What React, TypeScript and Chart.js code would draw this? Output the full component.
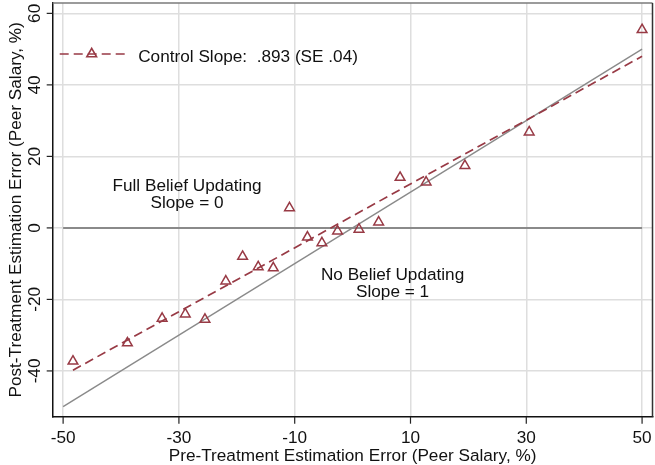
import { useEffect, useRef } from "react";
import { Chart, registerables } from "chart.js";

Chart.register(...registerables);

// Binned control-group estimation errors (pre vs post treatment)
const preError = [-48.3, -38.9, -32.9, -28.9, -25.5, -21.9, -19.0, -16.3, -13.7, -10.9, -7.8, -5.3, -2.6, 1.1, 4.5, 8.2, 12.7, 19.4, 30.5, 50.0];
const postError = [-37.3, -32.2, -25.3, -24.1, -25.6, -14.9, -8.0, -10.9, -11.2, 5.6, -2.6, -4.2, -0.9, -0.4, 1.6, 14.1, 12.8, 17.4, 26.8, 55.4];

// Fitted control slope and intercept
const fitSlope = 0.893;
const fitIntercept = 3.35;

// Reference lines: no updating (slope 1) and full updating (slope 0)
const refRange = [-50, 50];

const xTicks = [-50, -30, -10, 10, 30, 50];
const yTicks = [-40, -20, 0, 20, 40, 60];
const xTickLabels = ["-50", "-30", "-10", "10", "30", "50"];
const yTickLabels = ["-40", "-20", "0", "20", "40", "60"];

const xTitle = "Pre-Treatment Estimation Error (Peer Salary, %)";
const yTitle = "Post-Treatment Estimation Error (Peer Salary, %)";
const legendText = "Control Slope:  .893 (SE .04)";

const notes = [
  { x: -28.6, y: 10.3, text: "Full Belief Updating" },
  { x: -28.6, y: 5.5, text: "Slope = 0" },
  { x: 6.9, y: -14.6, text: "No Belief Updating" },
  { x: 6.9, y: -19.3, text: "Slope = 1" },
];

const RED = "#983a45";
const GRAY = "#8a8a8a";
const FONT = '17.2px "Liberation Sans", Arial, Helvetica, sans-serif';

const decorPlugin = {
  id: "decor",
  afterDatasetsDraw(chart: any) {
    const ctx = chart.ctx as CanvasRenderingContext2D;
    const { left, right, top, bottom } = chart.chartArea;
    const xs = chart.scales.x;
    const ys = chart.scales.y;
    ctx.save();

    // top and right frame edges
    ctx.lineWidth = 1.5;
    ctx.strokeStyle = "#7a7a7a";
    ctx.beginPath();
    ctx.moveTo(left, top);
    ctx.lineTo(right, top);
    ctx.stroke();
    ctx.strokeStyle = "#333";
    ctx.beginPath();
    ctx.moveTo(right, top);
    ctx.lineTo(right, bottom);
    ctx.stroke();

    // tick marks
    ctx.strokeStyle = "#222";
    ctx.lineWidth = 1.2;
    yTicks.forEach((v) => {
      const py = ys.getPixelForValue(v);
      ctx.beginPath();
      ctx.moveTo(left - 6, py);
      ctx.lineTo(left, py);
      ctx.stroke();
    });
    xTicks.forEach((v) => {
      const px = xs.getPixelForValue(v);
      ctx.beginPath();
      ctx.moveTo(px, bottom);
      ctx.lineTo(px, bottom + 7);
      ctx.stroke();
    });

    ctx.fillStyle = "#111";
    ctx.font = FONT;
    ctx.textBaseline = "alphabetic";

    // x tick labels
    ctx.textAlign = "center";
    xTicks.forEach((v, i) => {
      ctx.fillText(xTickLabels[i], xs.getPixelForValue(v), bottom + 26);
    });
    // x title
    ctx.fillText(xTitle, (left + right) / 2, bottom + 44);

    // y tick labels, rotated
    yTicks.forEach((v, i) => {
      ctx.save();
      ctx.translate(left - 12.5, ys.getPixelForValue(v));
      ctx.rotate(-Math.PI / 2);
      ctx.fillText(yTickLabels[i], 0, 0);
      ctx.restore();
    });
    // y title
    ctx.save();
    ctx.translate(left - 32, (top + bottom) / 2);
    ctx.rotate(-Math.PI / 2);
    ctx.fillText(yTitle, 0, 0);
    ctx.restore();

    // annotations
    notes.forEach((n) => {
      ctx.fillText(n.text, xs.getPixelForValue(n.x), ys.getPixelForValue(n.y));
    });

    // legend
    const ly = top + 51;
    ctx.strokeStyle = RED;
    ctx.lineWidth = 1.6;
    ctx.setLineDash([9, 5]);
    ctx.beginPath();
    ctx.moveTo(left + 7, ly);
    ctx.lineTo(left + 73, ly);
    ctx.stroke();
    ctx.setLineDash([]);
    const tx = left + 39;
    const r = 5.6;
    ctx.beginPath();
    ctx.moveTo(tx, ly - r);
    ctx.lineTo(tx + r * 0.866, ly + r / 2);
    ctx.lineTo(tx - r * 0.866, ly + r / 2);
    ctx.closePath();
    ctx.stroke();
    ctx.fillStyle = "#111";
    ctx.textAlign = "left";
    ctx.fillText(legendText, left + 85.5, top + 58.7);

    ctx.restore();
  },
};

export default function App() {
  const ref = useRef<HTMLCanvasElement>(null);

  useEffect(() => {
    const points = preError.map((x, i) => ({ x, y: postError[i] }));
    const xMin = Math.min(...preError);
    const xMax = Math.max(...preError);
    const fitLine = [xMin, xMax].map((x) => ({ x, y: fitIntercept + fitSlope * x }));
    const noUpdate = refRange.map((x) => ({ x, y: x }));
    const fullUpdate = refRange.map((x) => ({ x, y: 0 }));

    const chart = new Chart(ref.current as HTMLCanvasElement, {
      type: "scatter",
      data: {
        datasets: [
          {
            data: points,
            pointStyle: "triangle",
            pointRadius: 5.6,
            pointBorderWidth: 1.5,
            pointBackgroundColor: "rgba(255,255,255,0)",
            pointBorderColor: RED,
            showLine: false,
          },
          {
            data: fitLine,
            showLine: true,
            borderColor: RED,
            borderWidth: 1.7,
            borderDash: [9, 5],
            pointRadius: 0,
          },
          {
            data: noUpdate,
            showLine: true,
            borderColor: GRAY,
            borderWidth: 1.4,
            pointRadius: 0,
          },
          {
            data: fullUpdate,
            showLine: true,
            borderColor: GRAY,
            borderWidth: 2,
            pointRadius: 0,
          },
        ],
      } as any,
      options: {
        responsive: false,
        animation: false,
        devicePixelRatio: 1,
        layout: { autoPadding: false, padding: { left: 52.7, top: 3, right: 2.5, bottom: 48.3 } },
        plugins: { legend: { display: false }, tooltip: { enabled: false } },
        scales: {
          x: {
            type: "linear",
            min: -51.8,
            max: 51.8,
            ticks: { display: false },
            grid: { color: "#dedede", lineWidth: 1.5, drawTicks: false },
            border: { display: true, color: "#111", width: 1.5 },
            afterBuildTicks: (s: any) => {
              s.ticks = xTicks.map((value) => ({ value }));
            },
          },
          y: {
            type: "linear",
            min: -52.8,
            max: 62.9,
            ticks: { display: false },
            grid: { color: "#dedede", lineWidth: 1.5, drawTicks: false },
            border: { display: true, color: "#111", width: 1.5 },
            afterBuildTicks: (s: any) => {
              s.ticks = yTicks.map((value) => ({ value }));
            },
          },
        },
      } as any,
      plugins: [decorPlugin],
    });
    return () => chart.destroy();
  }, []);

  return (
    <div style={{ position: "fixed", left: 0, top: 0, width: 655, height: 465, background: "#fff" }}>
      <canvas ref={ref} width={655} height={465} style={{ display: "block", width: 655, height: 465 }} />
    </div>
  );
}
